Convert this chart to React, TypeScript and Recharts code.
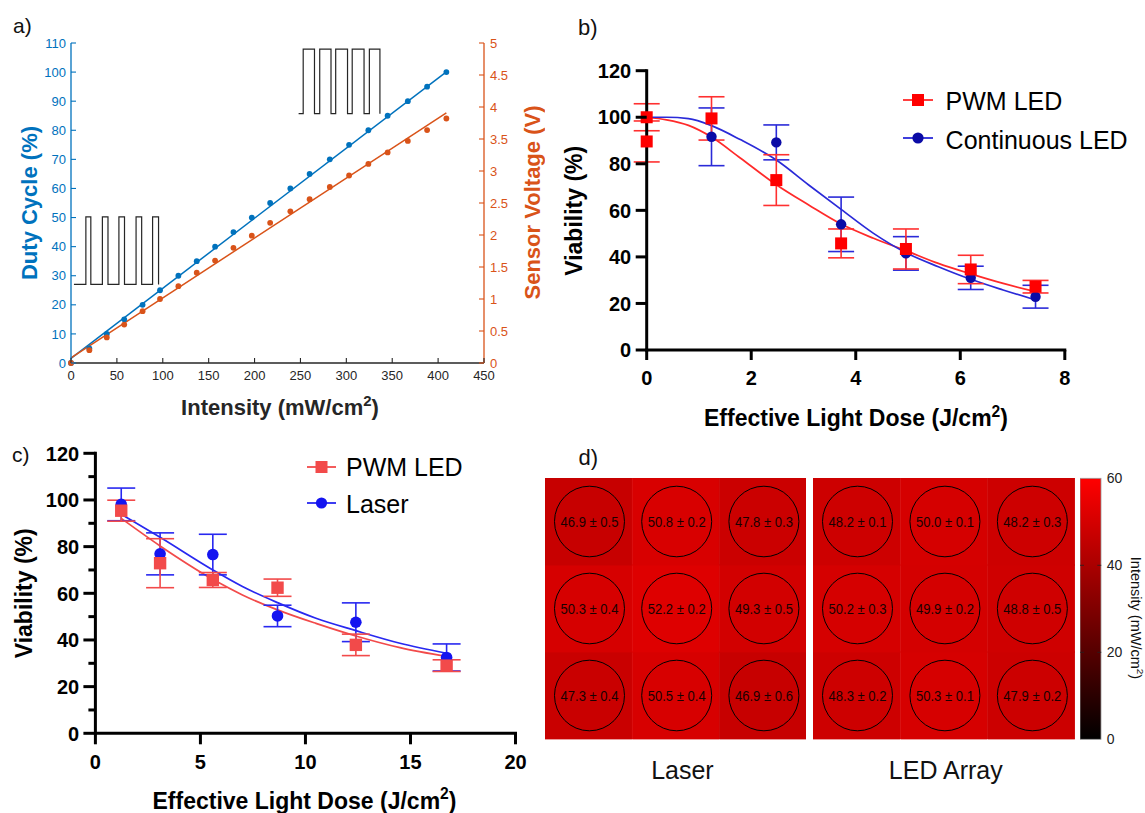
import React from 'react';
import {
  ComposedChart,
  BarChart,
  Bar,
  Cell,
  LabelList,
  Line,
  Scatter,
  XAxis,
  YAxis,
  ErrorBar,
  Legend,
} from 'recharts';

const FONT = "'Liberation Sans', Arial, Helvetica, sans-serif";

// ---------------- Panel a ----------------
const intensityA = [0, 20, 39, 58, 78, 97, 117, 137, 157, 177, 197, 217, 239, 260, 282, 303, 324, 345, 367, 388, 409];
const dutyCycleA = [0, 5, 10, 15, 20, 25, 30, 35, 40, 45, 50, 55, 60, 65, 70, 75, 80, 85, 90, 95, 100];
const sensorVoltageA = [0, 0.2, 0.4, 0.6, 0.81, 1.0, 1.2, 1.41, 1.6, 1.8, 1.99, 2.19, 2.37, 2.56, 2.75, 2.93, 3.11, 3.29, 3.47, 3.64, 3.82];
const fitIntensityA = [0, 409];
const dutyFitA = [1.6, 100.1];
const voltageFitA = [0.08, 3.91];
const waveLowEdgesA = [3.2, 16.2, 21.6, 34.2, 40.3, 52.2, 58.3, 70.9, 77.0, 88.9, 95.4];
const waveLowLevelsA = [27, 50.2];
const waveHighEdgesA = [248, 253, 265.3, 271, 283.3, 288.4, 301.3, 306.4, 319.3, 325.1, 336.6];
const waveHighLevelsA = [85.7, 107.9];
const intensityTicksA = [0, 50, 100, 150, 200, 250, 300, 350, 400, 450];
const dutyTicksA = [0, 10, 20, 30, 40, 50, 60, 70, 80, 90, 100, 110];
const voltTicksA = [0, 0.5, 1, 1.5, 2, 2.5, 3, 3.5, 4, 4.5, 5];

// ---------------- Panel b ----------------
const seriesNamesB = ['PWM LED', 'Continuous LED'];
const pwmDoseB = [0, 0, 1.24, 2.48, 3.72, 4.96, 6.2, 7.44];
const pwmViabB = [100, 89.6, 99.5, 73.0, 45.8, 43.4, 34.6, 27.2];
const pwmErrB = [5.8, 8.8, 9.3, 10.9, 6.2, 8.6, 6.1, 2.7];
const contDoseB = [0, 1.24, 2.48, 3.72, 4.96, 6.2, 7.44];
const contViabB = [100, 91.6, 89.2, 54.0, 41.5, 31.0, 22.9];
const contErrB = [0, 12.4, 7.5, 11.7, 7.2, 5.0, 4.9];
const fitDoseB = [0, 0.38, 0.8, 1.24, 1.79, 2.48, 3.1, 3.72, 4.34, 4.96, 5.58, 6.2, 6.82, 7.44];
const pwmFitB = [100, 98.9, 96.5, 91.5, 82.5, 71, 62.3, 54.1, 48, 42.7, 37.2, 32.7, 28.6, 25.1];
const contFitB = [100, 100, 99.4, 96.4, 90.4, 81.6, 70.9, 60.4, 50.1, 41.8, 35.8, 30.4, 25.8, 21.5];
const doseTicksB = [0, 2, 4, 6, 8];
const viabTicksB = [0, 20, 40, 60, 80, 100, 120];

// ---------------- Panel c ----------------
const seriesNamesC = ['PWM LED', 'Laser'];
const doseC = [1.23, 3.08, 5.59, 8.67, 12.4, 16.72];
const pwmViabC = [95.4, 72.9, 65.7, 62.4, 37.9, 29.0];
const pwmErrC = [4.5, 10.5, 3.2, 3.7, 4.6, 2.5];
const laserViabC = [98.1, 76.9, 76.6, 50.3, 47.6, 32.5];
const laserErrC = [7, 9, 8.7, 4.6, 8.3, 5.8];
const fitDoseC = [1.23, 3.08, 5.59, 7, 8.67, 10.5, 12.4, 14.5, 16.72];
const pwmFitC = [92.1, 80.3, 66, 59.3, 52.9, 47.1, 41.7, 36.7, 32.9];
const laserFitC = [93.9, 84, 70, 62.9, 56, 49.3, 44, 38.6, 34.3];
const doseTicksC = [0, 5, 10, 15, 20];
const viabTicksC = [0, 10, 20, 30, 40, 50, 60, 70, 80, 90, 100, 110, 120];

// ---------------- Panel d ----------------
const gridCols = ['left', 'center', 'right'];
const gridRows = [0, 1, 2];
const laserMean = [46.9, 50.8, 47.8, 50.3, 52.2, 49.3, 47.3, 50.5, 46.9];
const laserSd = [0.5, 0.2, 0.3, 0.4, 0.2, 0.5, 0.4, 0.4, 0.6];
const ledMean = [48.2, 50.0, 48.2, 50.2, 49.9, 48.8, 48.3, 50.3, 47.9];
const ledSd = [0.1, 0.1, 0.3, 0.3, 0.2, 0.5, 0.2, 0.1, 0.2];
const colorbarTicks = [0, 20, 40, 60];

// ---------------- helpers ----------------
const zip = (xs: number[], ys: number[], es?: number[]) =>
  xs.map((x, i) => (es ? { x, y: ys[i], e: es[i] } : { x, y: ys[i] }));

const buildWave = (edges: number[], levels: number[]) => {
  const [lo, hi] = levels;
  const pts = [{ x: edges[0], y: lo }];
  let level = lo;
  for (let i = 1; i < edges.length; i++) {
    pts.push({ x: edges[i], y: level });
    level = level === lo ? hi : lo;
    pts.push({ x: edges[i], y: level });
  }
  return pts;
};

type TickCfg = {
  side: 'left' | 'right' | 'bottom';
  len: number;
  inward?: boolean;
  gap: number;
  fontSize: number;
  bold?: boolean;
  color: string;
  lineColor?: string;
  sw: number;
  majorEvery?: number;
  minorLen?: number;
};

const makeTick = (c: TickCfg) => (props: any) => {
  const { x, y, payload } = props;
  const v: number = payload.value;
  const major = c.majorEvery ? Math.abs(v / c.majorEvery - Math.round(v / c.majorEvery)) < 1e-6 : true;
  const len = major ? c.len : c.minorLen ?? c.len / 2;
  const lc = c.lineColor ?? c.color;
  const tp = { fontFamily: FONT, fontSize: c.fontSize, fontWeight: c.bold ? 700 : 400, fill: c.color } as any;
  if (c.side === 'left') {
    const end = c.inward ? x + len : x - len;
    const tx = (c.inward ? x : end) - c.gap;
    return (
      <g>
        <line x1={x} y1={y} x2={end} y2={y} stroke={lc} strokeWidth={c.sw} />
        {major && (
          <text x={tx} y={y} dy="0.36em" textAnchor="end" {...tp}>
            {String(v)}
          </text>
        )}
      </g>
    );
  }
  if (c.side === 'right') {
    const end = c.inward ? x - len : x + len;
    const tx = (c.inward ? x : end) + c.gap;
    return (
      <g>
        <line x1={x} y1={y} x2={end} y2={y} stroke={lc} strokeWidth={c.sw} />
        {major && (
          <text x={tx} y={y} dy="0.36em" textAnchor="start" {...tp}>
            {String(v)}
          </text>
        )}
      </g>
    );
  }
  const end = c.inward ? y - len : y + len;
  const ty = (c.inward ? y : end) + c.gap;
  return (
    <g>
      <line x1={x} y1={y} x2={x} y2={end} stroke={lc} strokeWidth={c.sw} />
      {major && (
        <text x={x} y={ty} dy="0.72em" textAnchor="middle" {...tp}>
          {String(v)}
        </text>
      )}
    </g>
  );
};

const textLabel = (
  content: React.ReactNode,
  x: number,
  y: number,
  angle: number,
  style: { fill: string; fontSize: number; fontWeight?: number }
) => () =>
  (
    <text
      x={x}
      y={y}
      dy="0.36em"
      textAnchor="middle"
      transform={angle ? `rotate(${angle} ${x} ${y})` : undefined}
      fontFamily={FONT}
      fontSize={style.fontSize}
      fontWeight={style.fontWeight ?? 400}
      fill={style.fill}
    >
      {content}
    </text>
  );

const supCm2 = (base: string, fs: number) => (
  <>
    {base}
    <tspan dy={-fs * 0.42} fontSize={fs * 0.68}>
      2
    </tspan>
    <tspan dy={fs * 0.42}>)</tspan>
  </>
);

const squareShape = (fill: string, size: number) => (p: any) =>
  <rect x={p.cx - size / 2} y={p.cy - size / 2} width={size} height={size} fill={fill} />;
const circleShape = (fill: string, r: number) => (p: any) => <circle cx={p.cx} cy={p.cy} r={r} fill={fill} />;

type LegendItem = { name: string; color: string; marker: 'square' | 'circle'; markerColor: string };
const LegendBox = ({ items, rowH, fontSize, markW, gap, textShift }: { items: LegendItem[]; rowH: number; fontSize: number; markW: number; gap: number; textShift: number }) => (
  <div style={{ fontFamily: FONT, fontSize, color: '#000', whiteSpace: 'nowrap' }}>
    {items.map((it) => (
      <div key={it.name} style={{ height: rowH, display: 'flex', alignItems: 'center' }}>
        <svg width={markW} height={16} style={{ display: 'block' }}>
          <line x1={0} y1={8} x2={markW} y2={8} stroke={it.color} strokeWidth={1.8} />
          {it.marker === 'square' ? (
            <rect x={markW / 2 - 6} y={2} width={12} height={12} fill={it.markerColor} />
          ) : (
            <circle cx={markW / 2} cy={8} r={5.6} fill={it.markerColor} />
          )}
        </svg>
        <span style={{ marginLeft: gap, lineHeight: 1, position: 'relative', top: textShift }}>{it.name}</span>
      </div>
    ))}
  </div>
);

// ---------------- Panel A ----------------
function PanelA() {
  const blue = '#0072BD';
  const orange = '#D95319';
  const dark = '#262626';
  return (
    <div style={{ position: 'absolute', left: 0, top: 0 }}>
      <ComposedChart width={545} height={425} margin={{ top: 43, right: 0, bottom: 0, left: 0 }}>
        <XAxis
          type="number"
          dataKey="x"
          domain={[0, 450]}
          ticks={intensityTicksA}
          interval={0}
          height={62}
          axisLine={{ stroke: dark, strokeWidth: 1.3 }}
          tickLine={false}
          tickSize={0}
          tickMargin={0}
          tick={makeTick({ side: 'bottom', len: 5, inward: true, gap: 8, fontSize: 13, color: dark, sw: 1.1 })}
          label={textLabel(supCm2('Intensity (mW/cm', 22), 280, 407, 0, { fill: dark, fontSize: 22, fontWeight: 700 })}
        />
        <YAxis
          yAxisId="duty"
          type="number"
          dataKey="y"
          domain={[0, 110]}
          ticks={dutyTicksA}
          interval={0}
          width={71}
          axisLine={{ stroke: blue, strokeWidth: 1.3 }}
          tickLine={false}
          tickSize={0}
          tickMargin={0}
          tick={makeTick({ side: 'left', len: 5, inward: true, gap: 5, fontSize: 13, color: blue, sw: 1.1 })}
          label={textLabel('Duty Cycle (%)', 29, 203, -90, { fill: blue, fontSize: 22, fontWeight: 700 })}
        />
        <YAxis
          yAxisId="volt"
          orientation="right"
          type="number"
          dataKey="y"
          domain={[0, 5]}
          ticks={voltTicksA}
          interval={0}
          width={61}
          axisLine={{ stroke: orange, strokeWidth: 1.3 }}
          tickLine={false}
          tickSize={0}
          tickMargin={0}
          tick={makeTick({ side: 'right', len: 5, inward: true, gap: 6, fontSize: 13, color: orange, sw: 1.1 })}
          label={textLabel('Sensor Voltage (V)', 532, 202.5, -90, { fill: orange, fontSize: 22, fontWeight: 700 })}
        />
        <Line yAxisId="duty" data={buildWave(waveLowEdgesA, waveLowLevelsA)} dataKey="y" type="linear" stroke={dark} strokeWidth={1.2} dot={false} isAnimationActive={false} />
        <Line yAxisId="duty" data={buildWave(waveHighEdgesA, waveHighLevelsA)} dataKey="y" type="linear" stroke={dark} strokeWidth={1.2} dot={false} isAnimationActive={false} />
        <Line yAxisId="duty" data={zip(fitIntensityA, dutyFitA)} dataKey="y" type="linear" stroke={blue} strokeWidth={1.5} dot={false} isAnimationActive={false} />
        <Line yAxisId="volt" data={zip(fitIntensityA, voltageFitA)} dataKey="y" type="linear" stroke={orange} strokeWidth={1.5} dot={false} isAnimationActive={false} />
        <Scatter yAxisId="duty" data={zip(intensityA, dutyCycleA)} shape={circleShape(blue, 2.9)} isAnimationActive={false} />
        <Scatter yAxisId="volt" data={zip(intensityA, sensorVoltageA)} shape={circleShape(orange, 2.9)} isAnimationActive={false} />
      </ComposedChart>
    </div>
  );
}

// ---------------- Panel B ----------------
function PanelB() {
  const red = '#FF0000';
  const redLine = '#FF2A2A';
  const navy = '#0B0BA6';
  const blueLine = '#2A2AD8';
  const items: LegendItem[] = [
    { name: seriesNamesB[0], color: redLine, marker: 'square', markerColor: red },
    { name: seriesNamesB[1], color: blueLine, marker: 'circle', markerColor: navy },
  ];
  return (
    <div style={{ position: 'absolute', left: 545, top: 0 }}>
      <ComposedChart width={600} height={440} margin={{ top: 70.7, right: 80.2, bottom: 0, left: 0 }}>
        <XAxis
          type="number"
          dataKey="x"
          domain={[0, 8]}
          ticks={doseTicksB}
          interval={0}
          height={90}
          axisLine={{ stroke: '#000', strokeWidth: 3, strokeLinecap: 'square' } as any}
          tickLine={false}
          tickSize={0}
          tickMargin={0}
          tick={makeTick({ side: 'bottom', len: 10, gap: 10.5, fontSize: 20, bold: true, color: '#000', sw: 3 })}
          label={textLabel(supCm2('Effective Light Dose (J/cm', 23), 311, 418, 0, { fill: '#000', fontSize: 23, fontWeight: 700 })}
        />
        <YAxis
          type="number"
          dataKey="y"
          domain={[0, 120]}
          ticks={viabTicksB}
          interval={0}
          width={101.7}
          axisLine={{ stroke: '#000', strokeWidth: 3, strokeLinecap: 'square' } as any}
          tickLine={false}
          tickSize={0}
          tickMargin={0}
          tick={makeTick({ side: 'left', len: 11, gap: 4.5, fontSize: 20, bold: true, color: '#000', sw: 3 })}
          label={textLabel('Viability (%)', 28.8, 210.8, -90, { fill: '#000', fontSize: 23, fontWeight: 700 })}
        />
        <Line data={zip(fitDoseB, pwmFitB)} dataKey="y" type="monotone" stroke={redLine} strokeWidth={1.7} dot={false} isAnimationActive={false} />
        <Line data={zip(fitDoseB, contFitB)} dataKey="y" type="monotone" stroke={blueLine} strokeWidth={1.7} dot={false} isAnimationActive={false} />
        <Scatter data={zip(contDoseB, contViabB, contErrB)} shape={circleShape(navy, 5.2)} isAnimationActive={false}>
          <ErrorBar dataKey="e" direction="y" width={13} stroke={blueLine} strokeWidth={1.6} isAnimationActive={false} />
        </Scatter>
        <Scatter data={zip(pwmDoseB, pwmViabB, pwmErrB)} shape={squareShape(red, 12)} isAnimationActive={false}>
          <ErrorBar dataKey="e" direction="y" width={13} stroke="#FF3030" strokeWidth={1.6} isAnimationActive={false} />
        </Scatter>
        <Legend
          layout="vertical"
          align="center"
          verticalAlign="middle"
          wrapperStyle={{ position: 'absolute', left: 357.6, top: 80.85, width: 240, height: 'auto' }}
          content={() => <LegendBox items={items} rowH={38.3} fontSize={25} markW={30} gap={13} textShift={2} />}
        />
      </ComposedChart>
    </div>
  );
}

// ---------------- Panel C ----------------
function PanelC() {
  const red = '#F24A4A';
  const blue = '#1414F0';
  const blueLine = '#2828F0';
  const items: LegendItem[] = [
    { name: seriesNamesC[0], color: red, marker: 'square', markerColor: red },
    { name: seriesNamesC[1], color: blueLine, marker: 'circle', markerColor: blue },
  ];
  return (
    <div style={{ position: 'absolute', left: 0, top: 430 }}>
      <ComposedChart width={540} height={383} margin={{ top: 23.3, right: 24.5, bottom: 0, left: 0 }}>
        <XAxis
          type="number"
          dataKey="x"
          domain={[0, 20]}
          ticks={doseTicksC}
          interval={0}
          height={79.7}
          axisLine={{ stroke: '#000', strokeWidth: 3, strokeLinecap: 'square' } as any}
          tickLine={false}
          tickSize={0}
          tickMargin={0}
          tick={makeTick({ side: 'bottom', len: 11, gap: 10.2, fontSize: 20, bold: true, color: '#000', sw: 3 })}
          label={textLabel(supCm2('Effective Light Dose (J/cm', 23), 304.5, 370.5, 0, { fill: '#000', fontSize: 23, fontWeight: 700 })}
        />
        <YAxis
          type="number"
          dataKey="y"
          domain={[0, 120]}
          ticks={viabTicksC}
          interval={0}
          width={95.4}
          axisLine={{ stroke: '#000', strokeWidth: 3, strokeLinecap: 'square' } as any}
          tickLine={false}
          tickSize={0}
          tickMargin={0}
          tick={makeTick({ side: 'left', len: 12, minorLen: 7, majorEvery: 20, gap: 4.2, fontSize: 20, bold: true, color: '#000', sw: 3 })}
          label={textLabel('Viability (%)', 24, 163.3, -90, { fill: '#000', fontSize: 23, fontWeight: 700 })}
        />
        <Line data={zip(fitDoseC, pwmFitC)} dataKey="y" type="monotone" stroke={red} strokeWidth={1.7} dot={false} isAnimationActive={false} />
        <Line data={zip(fitDoseC, laserFitC)} dataKey="y" type="monotone" stroke={blueLine} strokeWidth={1.7} dot={false} isAnimationActive={false} />
        <Scatter data={zip(doseC, laserViabC, laserErrC)} shape={circleShape(blue, 5.8)} isAnimationActive={false}>
          <ErrorBar dataKey="e" direction="y" width={14} stroke={blueLine} strokeWidth={1.6} isAnimationActive={false} />
        </Scatter>
        <Scatter data={zip(doseC, pwmViabC, pwmErrC)} shape={squareShape(red, 12.4)} isAnimationActive={false}>
          <ErrorBar dataKey="e" direction="y" width={14} stroke={red} strokeWidth={1.6} isAnimationActive={false} />
        </Scatter>
        <Legend
          layout="vertical"
          align="center"
          verticalAlign="middle"
          wrapperStyle={{ position: 'absolute', left: 306.5, top: 18.4, width: 220, height: 'auto' }}
          content={() => <LegendBox items={items} rowH={36.6} fontSize={25} markW={29} gap={10.5} textShift={1} />}
        />
      </ComposedChart>
    </div>
  );
}

// ---------------- Panel D ----------------
const heat = (v: number) => `rgb(${Math.round((v / 60) * 255)},0,0)`;

const CellLabel = (props: any) => {
  const { x, y, width, height, value } = props;
  const cx = x + width / 2;
  const cy = y + height / 2;
  return (
    <g>
      <ellipse cx={cx + 1} cy={cy} rx={35} ry={35.3} fill="none" stroke="#000" strokeWidth={1} />
      <text
        x={cx + 1}
        y={cy}
        dy="0.36em"
        textAnchor="middle"
        fontFamily={FONT}
        fontSize={15.5}
        textLength={58}
        lengthAdjust="spacingAndGlyphs"
        fill="#1a0000"
      >
        {value}
      </text>
    </g>
  );
};

function GridPanel({ mean, sd, left, width, title, titleX }: { mean: number[]; sd: number[]; left: number; width: number; title: string; titleX: number }) {
  const data = gridCols.map((col, c) => {
    const row: any = { col };
    gridRows.forEach((r) => {
      row[`h${r}`] = 1;
      row[`m${r}`] = mean[r * 3 + c];
      row[`t${r}`] = `${mean[r * 3 + c].toFixed(1)} ± ${sd[r * 3 + c].toFixed(1)}`;
    });
    return row;
  });
  return (
    <div style={{ position: 'absolute', left, top: 478.3 }}>
      <BarChart width={width} height={311} data={data} margin={{ top: 0, right: 0, bottom: 0, left: 0 }} barCategoryGap={0} barGap={0}>
        <XAxis
          dataKey="col"
          height={50}
          axisLine={false}
          tickLine={false}
          tick={false}
          label={textLabel(title, titleX, 291.7, 0, { fill: '#111', fontSize: 25 })}
        />
        <YAxis hide type="number" domain={[0, 3]} />
        {[2, 1, 0].map((r) => (
          <Bar key={r} dataKey={`h${r}`} stackId="g" isAnimationActive={false}>
            {data.map((d: any, i: number) => (
              <Cell key={i} fill={heat(d[`m${r}`])} stroke={heat(d[`m${r}`])} strokeWidth={0.8} />
            ))}
            <LabelList dataKey={`t${r}`} content={CellLabel} />
          </Bar>
        ))}
      </BarChart>
    </div>
  );
}

const colorbarData = [{ name: 'scale', v: colorbarTicks[colorbarTicks.length - 1] }];

const cbTick = (props: any) => {
  const { x, y, payload } = props;
  const v: number = payload.value;
  const inner = v > 0 && v < 60;
  return (
    <g>
      {inner && <line x1={x - 4} y1={y} x2={x} y2={y} stroke="#222" strokeWidth={0.8} />}
      {inner && <line x1={x - 21.3} y1={y} x2={x - 17.3} y2={y} stroke="#222" strokeWidth={0.8} />}
      <text x={x + 5.4} y={y} dy="0.36em" textAnchor="start" fontFamily={FONT} fontSize={14} fill="#222">
        {String(v)}
      </text>
    </g>
  );
};

const ColorbarShape = (p: any) => (
  <g>
    <defs>
      <linearGradient id="cbGrad" x1="0" y1="1" x2="0" y2="0">
        <stop offset="0" stopColor="#000000" />
        <stop offset="1" stopColor="#FF0000" />
      </linearGradient>
    </defs>
    <rect x={p.x} y={p.y} width={p.width} height={p.height} fill="url(#cbGrad)" stroke="#9a9a9a" strokeWidth={0.8} />
  </g>
);

function Colorbar() {
  return (
    <div style={{ position: 'absolute', left: 1080, top: 470 }}>
      <BarChart width={65} height={280} data={colorbarData} margin={{ top: 8.3, right: 0, bottom: 10.7, left: 0 }} barCategoryGap={0}>
        <XAxis dataKey="name" hide />
        <YAxis
          orientation="right"
          type="number"
          domain={[0, 60]}
          ticks={colorbarTicks}
          interval={0}
          width={43.7}
          axisLine={false}
          tickLine={false}
          tickSize={0}
          tickMargin={0}
          tick={cbTick}
          label={textLabel(supCm2('Intensity (mW/cm', 14.5), 56.5, 148, 90, { fill: '#111', fontSize: 14.5 })}
        />
        <Bar dataKey="v" shape={ColorbarShape} isAnimationActive={false} />
      </BarChart>
    </div>
  );
}

function PanelLetters() {
  const st = { fontFamily: FONT, fill: '#111' } as any;
  return (
    <svg width={1145} height={813} style={{ position: 'absolute', left: 0, top: 0, pointerEvents: 'none' }}>
      <text x={13} y={32.7} fontSize={21} {...st}>a)</text>
      <text x={578} y={35} fontSize={22} {...st}>b)</text>
      <text x={12} y={461.5} fontSize={21} {...st}>c)</text>
      <text x={578.5} y={465} fontSize={22} {...st}>d)</text>
    </svg>
  );
}

export default function App() {
  return (
    <div style={{ position: 'absolute', left: 0, top: 0, width: 1145, height: 813, background: '#fff', overflow: 'hidden' }}>
      <PanelA />
      <PanelB />
      <PanelC />
      <GridPanel mean={laserMean} sd={laserSd} left={544.6} width={261.6} title="Laser" titleX={137.4} />
      <GridPanel mean={ledMean} sd={ledSd} left={813.2} width={262.3} title="LED Array" titleX={132.8} />
      <Colorbar />
      <PanelLetters />
    </div>
  );
}
